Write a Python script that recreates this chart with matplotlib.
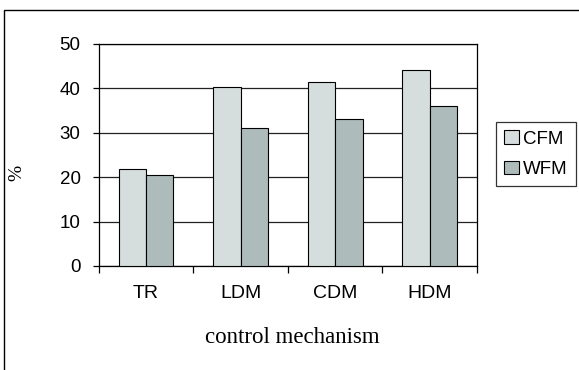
import numpy as np
import matplotlib
matplotlib.use("Agg")
import matplotlib.pyplot as plt
from matplotlib.patches import Rectangle

# data
categories = ["TR", "LDM", "CDM", "HDM"]
cfm = [21.8, 40.4, 41.4, 44.1]
wfm = [20.6, 31.1, 33.2, 36.1]
series_names = ["CFM", "WFM"]
y_ticks = [0, 10, 20, 30, 40, 50]

W, H = 579, 370
fig = plt.figure(figsize=(W / 100, H / 100), dpi=100)
fig.patch.set_facecolor("white")

# outer chart frame (only left and top edges are inside the crop)
fig.patches.append(Rectangle((4 / W, -0.2), 1.2, 1 - 10 / H + 0.2,
                             transform=fig.transFigure, fill=False,
                             edgecolor="black", lw=1.0, clip_on=False))

ax = fig.add_axes([98.7 / W, 1 - 266 / H, (477 - 98.7) / W, (266 - 44) / H])

x = np.arange(len(categories))
bw = 0.29
ax.bar(x - bw / 2, cfm, bw, color="#d5dedd", edgecolor="black", lw=0.8,
       label=series_names[0], zorder=3)
ax.bar(x + bw / 2, wfm, bw, color="#adbbbb", edgecolor="black", lw=0.8,
       label=series_names[1], zorder=3)

ax.set_xlim(-0.5, len(categories) - 0.5)
ax.set_ylim(0, 50)
ax.set_yticks(y_ticks)
ax.yaxis.grid(True, color="#222222", lw=0.9, zorder=0)
ax.set_axisbelow(True)

for s in ax.spines.values():
    s.set_color("black")
    s.set_linewidth(0.9)

ax.set_xticks(x)
ax.set_xticklabels(categories, fontfamily="Liberation Sans", fontsize=14)
ax.set_xticks(np.arange(-0.5, len(categories)), minor=True)
ax.tick_params(axis="x", which="major", length=0, pad=14)
ax.tick_params(axis="x", which="minor", length=5, width=0.9, direction="out")
ax.tick_params(axis="y", length=4, width=0.9, pad=9, labelsize=13.5)
for lab in ax.get_yticklabels():
    lab.set_fontfamily("Liberation Sans")

fig.text(292.5 / W, 1 - 342.7 / H, "control mechanism", fontfamily="Liberation Serif",
         fontsize=16.5, ha="center", va="baseline")
fig.text(17 / W, 1 - 173 / H, "%", fontfamily="Liberation Serif",
         fontsize=14, ha="center", va="center", rotation=90)

leg = ax.legend(loc="upper left", bbox_to_anchor=(496 / W, 1 - 122 / H),
                bbox_transform=fig.transFigure, fancybox=False, frameon=True,
                prop={"family": "Liberation Sans", "size": 13.5},
                handlelength=0.75, handleheight=0.7, handletextpad=0.25,
                borderpad=0.45, labelspacing=0.7, borderaxespad=0)
leg.get_frame().set_edgecolor("black")
leg.get_frame().set_linewidth(0.9)

fig.savefig("out.png", dpi=100)
